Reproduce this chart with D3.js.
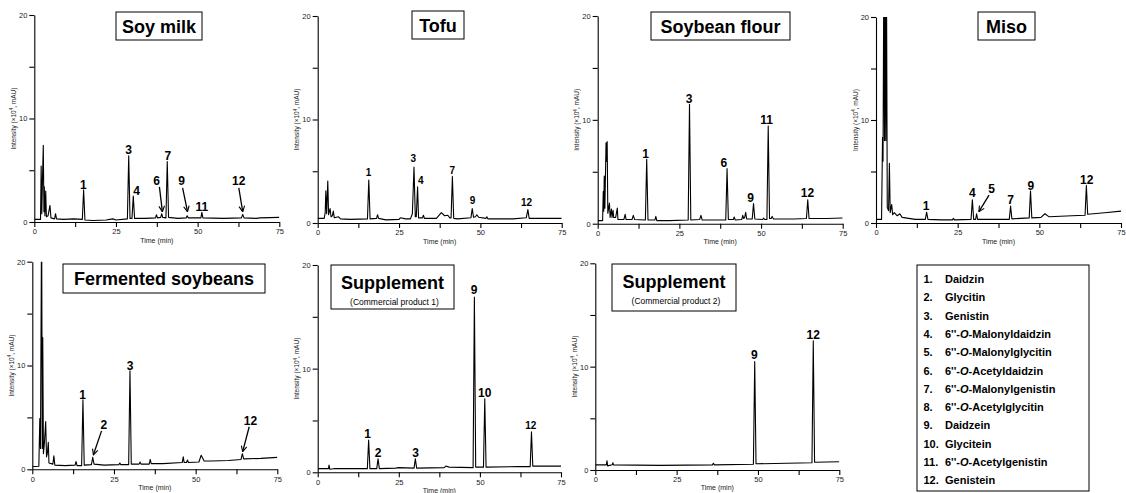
<!DOCTYPE html>
<html>
<head>
<meta charset="utf-8">
<script src="https://d3js.org/d3.v7.min.js"></script>
<style>
  body { margin: 0; background: #fff; }
  svg { display: block; font-family: Arial, "Liberation Sans", sans-serif; }
</style>
</head>
<body>
<svg width="1126" height="493"></svg>
<script>
// chromatogram traces: [time (min), intensity (x10^4 mAU)]
var soyMilkTrace = [[0,0.25],[1.9,0.25],[2.1,5.4],[2.3,0.8],[2.5,4.0],[2.75,7.4],[2.95,1.0],[3.06,3.4],[3.25,0.6],[3.5,3.0],[3.7,0.5],[4.2,0.6],[4.8,1.6],[5.1,0.4],[6.2,0.3],[6.5,0.8],[6.8,0.3],[9,0.25],[12,0.3],[14.7,0.25],[15.1,3.1],[15.5,0.2],[18,0.15],[22,0.2],[24,0.3],[25,0.2],[28.5,0.3],[28.9,6.4],[29.3,0.35],[29.9,0.35],[30.3,2.5],[30.7,0.35],[34,0.35],[37.1,0.4],[37.4,0.7],[37.7,0.4],[38.7,0.45],[39,0.8],[39.3,0.45],[40.3,0.4],[40.7,5.85],[41.1,0.45],[44,0.35],[46.5,0.4],[46.8,0.6],[47.1,0.4],[51,0.4],[51.3,0.93],[51.6,0.4],[58,0.35],[63.4,0.4],[63.8,0.74],[64.2,0.4],[68,0.35],[69,0.4],[75,0.45]];
var tofuTrace = [[0,0.45],[2,0.45],[2.3,1.0],[2.5,3.1],[2.75,0.9],[3.1,4.05],[3.35,0.8],[3.8,1.4],[4.1,0.6],[4.5,0.7],[4.8,1.15],[5.1,0.5],[6.4,0.6],[7,0.4],[10,0.35],[15.3,0.4],[15.7,4.15],[16.1,0.4],[18.1,0.45],[18.4,0.8],[18.7,0.45],[21,0.3],[25,0.35],[25.4,0.5],[27,0.4],[28.5,0.4],[29.1,0.9],[29.6,5.4],[30,0.6],[30.3,0.6],[30.7,3.5],[31,0.5],[32.2,0.5],[32.5,0.75],[32.8,0.45],[36.5,0.45],[38,1.0],[39,0.7],[40,0.75],[40.6,0.5],[41,0.5],[41.4,4.5],[41.8,0.45],[43,0.4],[47.1,0.5],[47.5,1.4],[47.9,0.55],[48.5,0.6],[48.9,0.8],[49.5,0.55],[51.7,0.45],[52,0.6],[52.3,0.4],[60,0.4],[64.1,0.5],[64.6,1.3],[65,0.45],[68,0.45],[75,0.45]];
var flourTrace = [[0,0.3],[1.5,0.3],[1.7,3.1],[1.85,1.2],[2.0,4.6],[2.2,1.5],[2.55,7.8],[2.7,6.0],[2.9,7.9],[3.1,1.0],[3.6,2.0],[3.8,0.6],[4.2,1.4],[4.4,0.6],[4.7,1.3],[4.9,0.6],[5.5,0.6],[6.0,1.5],[6.2,0.4],[8,0.4],[8.4,0.9],[8.7,0.4],[10.5,0.4],[10.9,0.8],[11.3,0.4],[14.6,0.35],[15.0,6.2],[15.4,0.35],[17.5,0.35],[17.8,0.7],[18.1,0.3],[22,0.3],[27.7,0.35],[28.1,11.5],[28.5,0.35],[31.2,0.4],[31.6,0.8],[32,0.35],[39.2,0.35],[39.6,5.3],[40,0.4],[41.5,0.4],[41.8,0.65],[42.1,0.35],[44.1,0.4],[44.4,0.8],[44.7,0.5],[45,0.6],[45.3,1.1],[45.6,0.45],[47.3,0.45],[47.7,1.95],[48.1,0.45],[50.5,0.4],[50.8,0.55],[51.1,0.4],[51.8,0.4],[52.2,9.4],[52.6,0.5],[53.1,0.5],[53.4,0.7],[53.8,0.45],[60,0.45],[63.9,0.5],[64.3,2.3],[64.7,0.5],[70,0.5],[75,0.55]];
var misoTrace = [[0,0.35],[1.7,0.35],[2.0,8.3],[2.15,6.0],[2.4,25],[2.6,8],[2.8,25],[3.0,8],[3.2,25],[3.45,1.5],[3.85,1.2],[4.1,5.8],[4.35,1.0],[4.8,1.8],[5.1,0.8],[5.6,1.0],[6.5,0.7],[7.3,0.9],[8,0.55],[10,0.45],[12,0.35],[15.1,0.35],[15.5,1.05],[15.9,0.35],[20,0.3],[23.4,0.3],[23.7,0.45],[24,0.3],[29.1,0.35],[29.5,2.25],[29.9,0.35],[30.5,0.35],[30.8,0.9],[31.1,0.35],[36,0.35],[40.8,0.35],[41.2,1.65],[41.6,0.4],[46.9,0.5],[47.3,3.1],[47.7,0.5],[50.5,0.55],[51.7,0.9],[53,0.6],[60,0.7],[64,0.75],[64.4,3.65],[64.8,0.85],[70,1.0],[75,1.15]];
var fermentedTrace = [[0,0.25],[2.0,0.3],[2.3,4.9],[2.5,2.0],[2.85,25],[3.05,2.0],[3.2,12.7],[3.4,1.5],[3.7,2.5],[4.1,4.6],[4.35,1.2],[4.6,1.5],[4.9,2.6],[5.1,0.6],[6.3,0.5],[6.6,1.3],[6.9,0.4],[10,0.35],[13.1,0.4],[13.4,0.75],[13.7,0.35],[15.1,0.35],[15.5,6.7],[15.9,0.4],[18.1,0.45],[18.5,1.15],[18.9,0.5],[22,0.4],[26.5,0.45],[26.8,0.6],[27.1,0.45],[29.5,0.45],[29.9,9.5],[30.3,0.5],[32.7,0.5],[33,0.7],[33.3,0.5],[35.8,0.5],[36.1,0.95],[36.4,0.55],[40,0.55],[45.9,0.65],[46.2,1.2],[46.5,0.65],[47.2,0.65],[47.5,0.9],[47.8,0.65],[51,0.7],[51.7,1.35],[52.6,0.8],[55,0.8],[60,0.85],[63.9,0.95],[64.3,1.5],[64.7,1.0],[70,1.05],[75,1.15]];
var supp1Trace = [[0,0.35],[3.3,0.35],[3.5,0.7],[3.7,0.3],[5,0.35],[15.3,0.35],[15.7,3.1],[16.1,0.35],[18.2,0.35],[18.6,1.3],[19,0.35],[24,0.4],[25,0.45],[29.7,0.4],[30.1,1.3],[30.5,0.4],[39,0.45],[39.5,0.6],[40.5,0.5],[47.9,0.45],[48.3,16.9],[48.7,0.5],[51.1,0.5],[51.5,7.1],[51.9,0.5],[62,0.55],[65.5,0.55],[65.9,3.9],[66.3,0.6],[75,0.6]];
var supp2Trace = [[0,0.5],[3.4,0.5],[3.6,0.9],[3.8,0.4],[5.2,0.5],[5.4,0.7],[5.6,0.5],[20,0.45],[36,0.5],[36.3,0.65],[36.6,0.5],[48.6,0.55],[49,10.5],[49.4,0.6],[66.6,0.7],[67,12.5],[67.4,0.75],[75,0.8]];

// peak labels: [label, time, intensity of label bottom, (arrow from t, v, arrow to t, v)]
var soyMilkPeaks = [["1",15.0,3.2],["3",28.9,6.6],["4",31.3,2.6],["6",37.4,3.6,38.3,3.4,39.2,1.0],["7",40.9,6.0],["9",45.1,3.6,45.4,3.3,46.9,1.0],["11",51.3,1.1],["12",62.6,3.6,62.6,3.3,63.8,1.0]];
var tofuPeaks = [["1",15.6,4.5],["3",29.4,5.85],["4",31.7,3.8],["7",41.4,4.7],["9",47.6,1.8],["12",64.2,1.6]];
var flourPeaks = [["1",14.7,6.3],["3",28.0,11.6],["6",38.6,5.5],["9",46.8,2.1],["11",51.7,9.6],["12",64.2,2.6]];
var misoPeaks = [["1",15.3,1.25],["4",29.5,2.5],["5",35.4,2.9,34.6,2.7,31.5,1.1],["7",41.2,1.8],["9",47.4,3.25],["12",64.5,3.8]];
var fermentedPeaks = [["1",15.4,6.8],["2",21.9,3.9,21.2,3.7,18.7,1.4],["3",29.9,9.6],["12",66.8,4.3,66.4,4.1,64.4,1.7]];
var supp1Peaks = [["1",15.4,3.3],["2",18.6,1.5],["3",30.2,1.5],["9",48.2,17.2],["10",51.5,7.3],["12",65.7,4.15]];
var supp2Peaks = [["9",48.9,10.7],["12",67.0,12.7]];

var sampleNames = ["Soy milk","Tofu","Soybean flour","Miso","Fermented soybeans","Supplement","Supplement"];
var sampleNotes = ["","","","","","(Commercial product 1)","(Commercial product 2)"];

var compoundNumbers = ["1.","2.","3.","4.","5.","6.","7.","8.","9.","10.","11.","12."];
var compoundNames = ["Daidzin","Glycitin","Genistin","6''-|O|-Malonyldaidzin","6''-|O|-Malonylglycitin","6''-|O|-Acetyldaidzin","6''-|O|-Malonylgenistin","6''-|O|-Acetylglycitin","Daidzein","Glycitein","6''-|O|-Acetylgenistin","Genistein"];

var xTicks = [0,12.5,25,37.5,50,62.5,75];
var xTickLabels = [0,25,50,75];
var yTicks = [0,5,10,15,20];
var yTickLabels = [0,10,20];

var traces = [soyMilkTrace, tofuTrace, flourTrace, misoTrace, fermentedTrace, supp1Trace, supp2Trace];
var peakSets = [soyMilkPeaks, tofuPeaks, flourPeaks, misoPeaks, fermentedPeaks, supp1Peaks, supp2Peaks];

// layout of each panel: plot rect and title box (px)
var frames = [
  {x:34.3, y:15, w:245, h:207, box:[116,12,202,40], fs:12},
  {x:317.7, y:16, w:244, h:207, box:[412,11,464,39], fs:10},
  {x:597.7, y:16, w:245, h:207.7, box:[651,12,790,40], fs:12},
  {x:876, y:17, w:245, h:206, box:[978,12,1035,40], fs:12},
  {x:32.3, y:261.7, w:245, h:207.6, box:[63,264,265,293], fs:12},
  {x:317.7, y:265, w:243.3, h:207.3, box:[331,265,454,309], fs:12, small:["12"]},
  {x:595.3, y:263.3, w:244, h:206.7, box:[612,264,736,311], fs:12}
];

var svg = d3.select("svg");

svg.append("defs").append("marker")
    .attr("id", "arr")
    .attr("viewBox", "0 0 10 10")
    .attr("refX", 9).attr("refY", 5)
    .attr("markerWidth", 7).attr("markerHeight", 7)
    .attr("markerUnits", "userSpaceOnUse")
    .attr("orient", "auto")
  .append("path")
    .attr("d", "M1,1L9,5L1,9")
    .attr("fill", "none")
    .attr("stroke", "#000")
    .attr("stroke-width", 1.6);

frames.forEach(function(f, i) {
  var g = svg.append("g").attr("transform", "translate(" + f.x + "," + f.y + ")");
  var x = d3.scaleLinear().domain([0, 75]).range([0, f.w]);
  var y = d3.scaleLinear().domain([0, 20]).range([f.h, 0]);

  g.append("clipPath").attr("id", "clip" + i)
    .append("rect").attr("x", 0).attr("y", 0).attr("width", f.w).attr("height", f.h);

  var line = d3.line().x(function(d) { return x(d[0]); }).y(function(d) { return y(d[1]); });
  g.append("path")
      .datum(traces[i])
      .attr("clip-path", "url(#clip" + i + ")")
      .attr("d", line)
      .attr("fill", "none")
      .attr("stroke", "#000")
      .attr("stroke-width", 1.1)
      .attr("stroke-linejoin", "round");

  var xAxis = g.append("g")
      .attr("transform", "translate(0," + f.h + ")")
      .call(d3.axisBottom(x).tickValues(xTicks).tickSize(5).tickSizeOuter(0).tickPadding(2)
        .tickFormat(function(d) { return xTickLabels.indexOf(d) >= 0 ? d : ""; }));
  var yAxis = g.append("g")
      .call(d3.axisLeft(y).tickValues(yTicks).tickSize(5).tickSizeOuter(0).tickPadding(2)
        .tickFormat(function(d) { return yTickLabels.indexOf(d) >= 0 ? d : ""; }));
  [xAxis, yAxis].forEach(function(a) {
    a.attr("font-family", null).attr("font-size", 7.5);
    a.selectAll("path, line").attr("stroke", "#000").attr("stroke-width", 1.1);
    a.selectAll("text").attr("fill", "#222");
  });

  g.append("text")
      .attr("x", f.w / 2).attr("y", f.h + 20.5)
      .attr("text-anchor", "middle")
      .attr("font-size", 7)
      .attr("fill", "#222")
      .text("Time (min)");

  var yl = g.append("text")
      .attr("transform", "translate(-18.5," + (f.h / 2) + ") rotate(-90)")
      .attr("text-anchor", "middle")
      .attr("font-size", 6.5)
      .attr("fill", "#222");
  yl.append("tspan").text("Intensity (\u00d710");
  yl.append("tspan").attr("font-size", 4.5).attr("dy", -2.5).text("4");
  yl.append("tspan").attr("dy", 2.5).text(", mAU)");

  // peak labels and arrows
  peakSets[i].forEach(function(p) {
    var small = f.small && f.small.indexOf(p[0]) >= 0;
    g.append("text")
        .attr("x", x(p[1])).attr("y", y(p[2]))
        .attr("text-anchor", "middle")
        .attr("font-weight", "bold")
        .attr("font-size", small ? 10 : f.fs)
        .text(p[0]);
    if (p.length > 3) {
      g.append("line")
          .attr("x1", x(p[3])).attr("y1", y(p[4]))
          .attr("x2", x(p[5])).attr("y2", y(p[6]))
          .attr("stroke", "#000")
          .attr("stroke-width", 1.3)
          .attr("marker-end", "url(#arr)");
    }
  });

  // title box
  var b = f.box;
  svg.append("rect")
      .attr("x", b[0]).attr("y", b[1])
      .attr("width", b[2] - b[0]).attr("height", b[3] - b[1])
      .attr("fill", "#fff").attr("stroke", "#000").attr("stroke-width", 1);
  var cx = (b[0] + b[2]) / 2;
  if (sampleNotes[i]) {
    svg.append("text")
        .attr("x", cx).attr("y", b[1] + 24)
        .attr("text-anchor", "middle")
        .attr("font-weight", "bold").attr("font-size", 18)
        .text(sampleNames[i]);
    svg.append("text")
        .attr("x", cx + 2).attr("y", b[1] + 39.5)
        .attr("text-anchor", "middle")
        .attr("font-size", 8.5)
        .text(sampleNotes[i]);
  } else {
    svg.append("text")
        .attr("x", cx).attr("y", (b[1] + b[3]) / 2 + 6.5)
        .attr("text-anchor", "middle")
        .attr("font-weight", "bold").attr("font-size", 18)
        .text(sampleNames[i]);
  }
});

// compound legend
var lg = svg.append("g");
lg.append("rect")
    .attr("x", 917).attr("y", 265)
    .attr("width", 172).attr("height", 226)
    .attr("fill", "#fff").attr("stroke", "#000").attr("stroke-width", 1);
compoundNames.forEach(function(name, i) {
  var yy = 283 + i * 18.3;
  lg.append("text")
      .attr("x", 923.5).attr("y", yy)
      .attr("font-weight", "bold").attr("font-size", 11)
      .text(compoundNumbers[i]);
  var t = lg.append("text")
      .attr("x", 945).attr("y", yy)
      .attr("font-weight", "bold").attr("font-size", 11)
      .attr("textLength", null);
  name.split("|").forEach(function(part, k) {
    t.append("tspan").attr("font-style", k === 1 ? "italic" : null).text(part);
  });
});
</script>
</body>
</html>
